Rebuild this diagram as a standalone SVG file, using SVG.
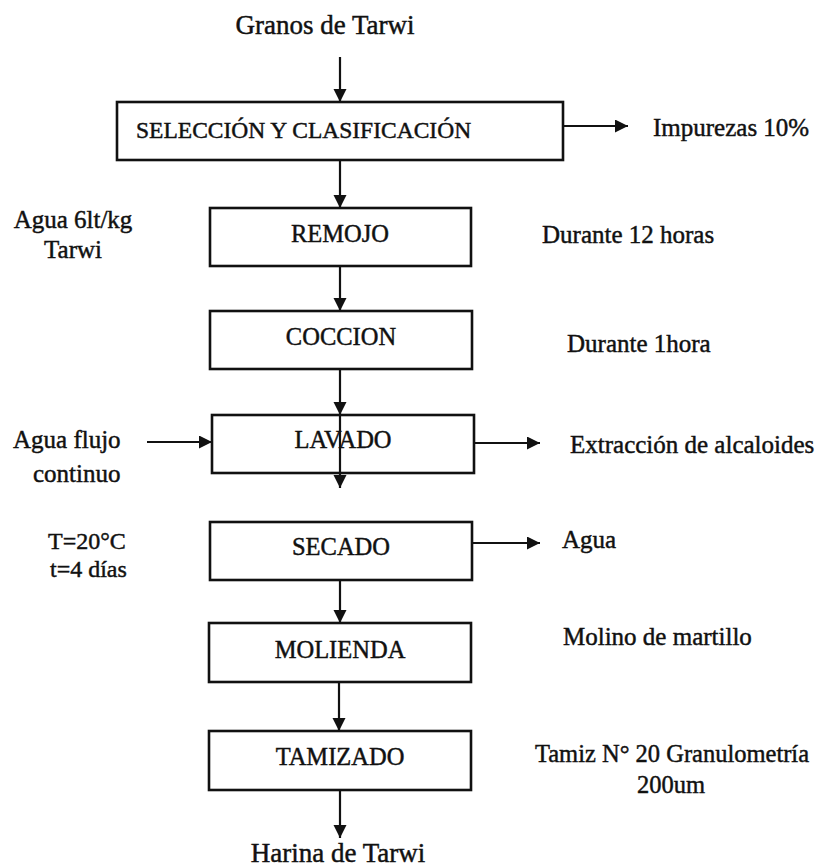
<svg xmlns="http://www.w3.org/2000/svg" width="821" height="867" viewBox="0 0 821 867">
  <style>
    text { font-family: "Liberation Serif", "Times New Roman", serif; fill: #111; stroke: #111; stroke-width: 0.45; }
    .title { font-size: 27px; }
    .step { font-size: 24.5px; text-anchor: middle; }
    .note { font-size: 25px; }
    .mid { text-anchor: middle; }
    .box { fill: #fff; stroke: #111; stroke-width: 2.6; }
    .flow { fill: none; stroke: #111; stroke-width: 2.2; marker-end: url(#arrow); }
  </style>
  <defs>
    <marker id="arrow" markerUnits="userSpaceOnUse" markerWidth="14" markerHeight="14" refX="13" refY="6.5" orient="auto">
      <path d="M0,0 L13,6.5 L0,13 Z" fill="#111"/>
    </marker>
  </defs>
  <rect width="821" height="867" fill="#fff"/>

  <!-- process steps -->
  <g id="seleccion">
    <rect class="box" x="117" y="102" width="446" height="58"/>
    <text class="note" x="136" y="138" style="font-size:23.5px">SELECCIÓN Y CLASIFICACIÓN</text>
  </g>
  <g id="remojo">
    <rect class="box" x="210" y="208" width="261" height="58"/>
    <text class="step" x="340" y="242">REMOJO</text>
  </g>
  <g id="coccion">
    <rect class="box" x="210" y="311" width="262" height="58"/>
    <text class="step" x="341" y="345">COCCION</text>
  </g>
  <g id="lavado">
    <rect class="box" x="212" y="415" width="262" height="58"/>
    <text class="step" x="343" y="448">LAVADO</text>
  </g>
  <g id="secado">
    <rect class="box" x="210" y="522" width="262" height="58"/>
    <text class="step" x="341" y="555">SECADO</text>
  </g>
  <g id="molienda">
    <rect class="box" x="209" y="623" width="262" height="59"/>
    <text class="step" x="340" y="658">MOLIENDA</text>
  </g>
  <g id="tamizado">
    <rect class="box" x="209" y="731" width="262" height="59"/>
    <text class="step" x="340" y="765">TAMIZADO</text>
  </g>

  <!-- input / output labels -->
  <g id="entrada">
    <text class="title mid" x="325" y="34">Granos de Tarwi</text>
  </g>
  <g id="salida">
    <text class="title mid" x="338" y="862">Harina de Tarwi</text>
  </g>

  <!-- side notes -->
  <g id="impurezas"><text class="note" x="653" y="136">Impurezas 10%</text></g>
  <g id="agua-remojo">
    <text class="note mid" x="73" y="228">Agua 6lt/kg</text>
    <text class="note mid" x="73" y="258">Tarwi</text>
  </g>
  <g id="tiempo-remojo"><text class="note" x="542" y="243">Durante 12 horas</text></g>
  <g id="tiempo-coccion"><text class="note" x="567" y="352">Durante 1hora</text></g>
  <g id="agua-lavado">
    <text class="note" x="13" y="448">Agua flujo</text>
    <text class="note" x="33" y="482">continuo</text>
  </g>
  <g id="alcaloides"><text class="note" x="570" y="453">Extracción de alcaloides</text></g>
  <g id="condiciones-secado">
    <text class="note" x="48" y="549" style="font-size:24px">T=20°C</text>
    <text class="note" x="50" y="577" style="font-size:24px">t=4 días</text>
  </g>
  <g id="agua-secado"><text class="note" x="562" y="548">Agua</text></g>
  <g id="molino"><text class="note" x="563" y="645">Molino de martillo</text></g>
  <g id="tamiz">
    <text class="note mid" x="672" y="762" style="font-size:24.5px">Tamiz N° 20 Granulometría</text>
    <text class="note mid" x="671" y="793" style="font-size:24.5px">200um</text>
  </g>

  <!-- connectors -->
  <g id="connectors">
    <line class="flow" x1="340" y1="57" x2="340" y2="102"/>
    <line class="flow" x1="340" y1="160" x2="340" y2="208"/>
    <line class="flow" x1="340" y1="266" x2="340" y2="311"/>
    <line class="flow" x1="340" y1="369" x2="340" y2="415"/>
    <line class="flow" x1="340" y1="415" x2="340" y2="488"/>
    <line class="flow" x1="340" y1="580" x2="340" y2="623"/>
    <line class="flow" x1="339" y1="682" x2="339" y2="731"/>
    <line class="flow" x1="340" y1="790" x2="340" y2="838"/>
    <line class="flow" x1="563" y1="126" x2="628" y2="126"/>
    <line class="flow" x1="147" y1="442" x2="212" y2="442"/>
    <line class="flow" x1="474" y1="443" x2="540" y2="443"/>
    <line class="flow" x1="472" y1="543" x2="540" y2="543"/>
  </g>
</svg>
